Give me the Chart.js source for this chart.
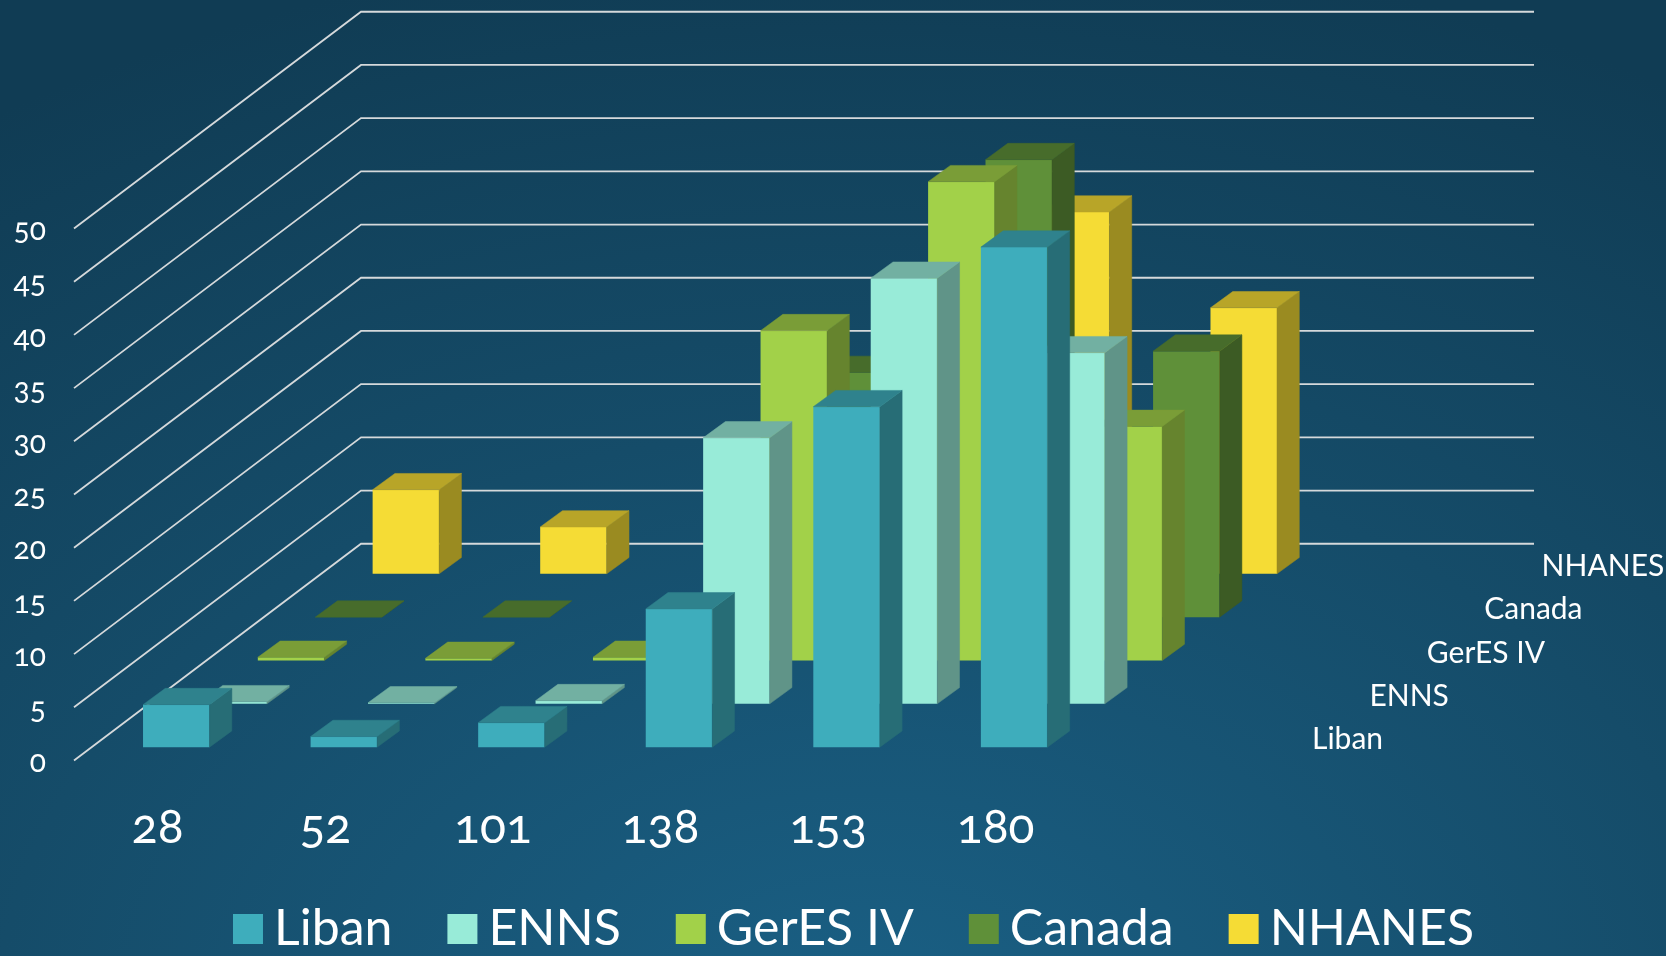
<!DOCTYPE html>
<html lang="fr">
<head>
    <meta charset="UTF-8">
    <title>Liban, ENNS, GerES IV, Canada, NHANES</title>
    <script src="https://cdn.jsdelivr.net/npm/chart.js@4/dist/chart.umd.min.js"></script>
    <style>
        html, body{margin:0; height:100%; overflow:hidden;}
        body{background:radial-gradient(ellipse 95% 115% at 52% 108%, #1a6085 0%, #154c69 55%, #103c54 100%);}
        canvas{display:block; font-variant-numeric:oldstyle-nums; font-feature-settings:"onum" 1;}
    </style>
</head>
<body>
    <canvas id="myChart" width="1666" height="956"></canvas>
    <script>
        const categories = ['28', '52', '101', '138', '153', '180', '']
        const seriesNames = ['Liban', 'ENNS', 'GerES IV', 'Canada', 'NHANES']
        const liban = [4, 1, 2.3, 13, 32, 47]
        const enns = [0.2, 0.1, 0.3, 25, 40, 33]
        const geres = [0.3, 0.2, 0.3, 31, 45, 22]
        const canada = [0, 0, 0, 23, 43, 25]
        const nhanes = [7.9, 4.4, 0, 0, 34, 25]
        const seriesValues = [liban, enns, geres, canada, nhanes]
        const seriesColors = ['#3eadbc', '#98ebd8', '#a2d149', '#5f9039', '#f5dc35']

        // projection of the depth axis, in pixels
        const slabDx = 57.4, slabDy = 43.35   // one series further back
        const insetDx = 18.5, insetDy = 13.3  // bar front inside its slab
        const faceDx = 22.3, faceDy = 16.3    // bar depth
        const FONT = 'Lato'

        function shade(hex, f){
            const n = parseInt(hex.slice(1), 16)
            const c = [n >> 16, (n >> 8) & 255, n & 255].map(v => Math.round(v * f))
            return `rgb(${c[0]},${c[1]},${c[2]})`
        }

        const box3d = {
            id: 'box3d',
            afterLayout(chart){
                // the legend row sits lower than its reserved box
                const lg = chart.legend
                lg.left = 27.5; lg.right = 1666 + 27.5
                lg.top = 929 - 25 - lg.options.labels.padding
                // tick labels are clipped to the scale box, let it reach the page bottom
                chart.scales.x.bottom = chart.height
                // old-style digits sit low, nudge the y labels to look centred on the lines
                chart.scales.y.getLabelItems(chart.chartArea).forEach(item => { item.options.translation[1] += 2 })
            },
            beforeDatasetsDraw(chart){
                // floor edge, side wall and back wall lines for every y tick
                const {ctx, chartArea, scales:{y}} = chart
                const depthX = slabDx * seriesNames.length, depthY = slabDy * seriesNames.length
                ctx.save()
                ctx.strokeStyle = '#d5d9db'
                ctx.lineWidth = 1.8
                y.ticks.forEach((t, i) => {
                    const py = y.getPixelForTick(i)
                    ctx.beginPath()
                    ctx.moveTo(chartArea.left, py)
                    ctx.lineTo(chartArea.left + depthX, py - depthY)
                    ctx.lineTo(chartArea.right + depthX, py - depthY)
                    ctx.stroke()
                })
                ctx.restore()
            },
            beforeDatasetDraw(chart, args){
                const ctx = chart.ctx
                ctx.save()
                ctx.translate(insetDx + args.index * slabDx, -(insetDy + args.index * slabDy))
            },
            afterDatasetDraw(chart, args){
                const ctx = chart.ctx
                const color = seriesColors[args.index]
                args.meta.data.forEach(bar => {
                    const {x, y, base, width} = bar.getProps(['x', 'y', 'base', 'width'], true)
                    const r = x + width / 2, l = x - width / 2
                    // right face
                    ctx.fillStyle = ctx.strokeStyle = shade(color, 0.63)
                    ctx.lineWidth = 0.5
                    ctx.beginPath()
                    ctx.moveTo(r, y)
                    ctx.lineTo(r + faceDx, y - faceDy)
                    ctx.lineTo(r + faceDx, base - faceDy)
                    ctx.lineTo(r, base)
                    ctx.closePath()
                    ctx.fill(); ctx.stroke()
                    // top face
                    ctx.fillStyle = ctx.strokeStyle = shade(color, 0.75)
                    ctx.beginPath()
                    ctx.moveTo(l, y)
                    ctx.lineTo(l + faceDx, y - faceDy)
                    ctx.lineTo(r + faceDx, y - faceDy)
                    ctx.lineTo(r, y)
                    ctx.closePath()
                    ctx.fill(); ctx.stroke()
                })
                ctx.restore()
            },
            afterDraw(chart){
                // series names along the depth axis
                const {ctx, chartArea, scales:{y}} = chart
                ctx.save()
                ctx.fillStyle = '#ffffff'
                ctx.font = `30px ${FONT}`
                ctx.textAlign = 'left'
                ctx.textBaseline = 'alphabetic'
                seriesNames.forEach((name, i) => {
                    ctx.fillText(name, chartArea.right + 65 + i * slabDx, y.getPixelForValue(0) - insetDy + 2 - i * slabDy)
                })
                ctx.restore()
            }
        }

        const ctx = document.getElementById('myChart').getContext('2d')
        const myChart = new Chart(ctx, {
            type: 'bar',
            plugins: [box3d],
            data: {
                labels: categories,
                datasets: seriesNames.map((name, i) => ({
                    label: name,
                    data: seriesValues[i],
                    backgroundColor: seriesColors[i],
                    clip: false
                }))
            },
            options: {
                responsive: false,
                animation: false,
                grouped: false,
                barPercentage: 0.397,
                categoryPercentage: 1,
                layout: {padding: {top: 228.5}},
                scales: {
                    x: {
                        grid: {display: false},
                        border: {display: false},
                        afterFit: s => { s.height = 956 - 760.5 - s.chart.legend.height },
                        ticks: {color: '#ffffff', font: {family: FONT, size: 48}, padding: 30, autoSkip: false, maxRotation: 0}
                    },
                    y: {
                        min: 0,
                        max: 50,
                        grid: {display: false},
                        border: {display: false},
                        afterFit: s => { s.width = 74 },
                        ticks: {color: '#ffffff', font: {family: FONT, size: 30}, padding: 20, stepSize: 5}
                    },
                    // keeps the empty room right of the bars
                    rightRoom: {
                        position: 'right',
                        grid: {display: false},
                        border: {display: false},
                        ticks: {display: false},
                        afterFit: s => { s.width = 419 }
                    }
                },
                plugins: {
                    tooltip: {enabled: false},
                    legend: {
                        position: 'bottom',
                        labels: {
                            color: '#ffffff',
                            font: {family: FONT, size: 50},
                            boxWidth: 2,
                            boxHeight: 2,
                            padding: 69,
                            generateLabels: c => Chart.defaults.plugins.legend.labels.generateLabels(c).map(item => ({
                                ...item, strokeStyle: item.fillStyle, lineWidth: 28
                            }))
                        }
                    }
                }
            }
        })//chart
    </script>
</body>
</html>
